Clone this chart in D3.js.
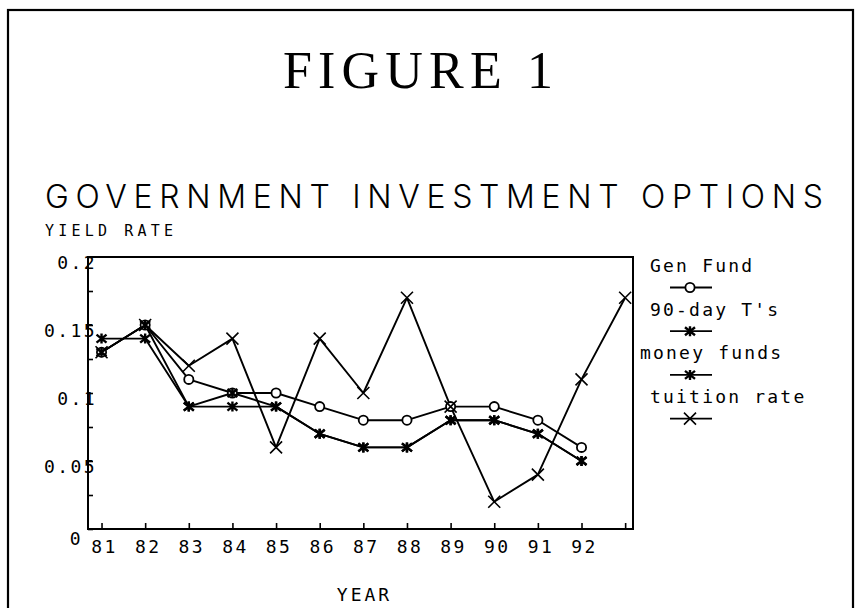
<!DOCTYPE html>
<html>
<head>
<meta charset="UTF-8" />
<title>Figure 1</title>
<script src="https://d3js.org/d3.v7.min.js"></script>
<style>
  body { margin: 0; background: #fff; }
  text { fill: #000; }
  .mono { font-family: "DejaVu Sans Mono", monospace; }
  .axis path { display: none; }
  .axis line { stroke: #000; stroke-width: 1.6; }
</style>
</head>
<body>
<div id="chart"></div>
<script>
// data
var years = [81, 82, 83, 84, 85, 86, 87, 88, 89, 90, 91, 92, 93];
var yearLabels = ["81", "82", "83", "84", "85", "86", "87", "88", "89", "90", "91", "92", ""];
var genFund    = [0.13, 0.15, 0.11, 0.10, 0.10, 0.09, 0.08, 0.08, 0.09, 0.09, 0.08, 0.06];
var tBills     = [0.14, 0.14, 0.09, 0.09, 0.09, 0.07, 0.06, 0.06, 0.08, 0.08, 0.07, 0.05];
var moneyFunds = [0.13, 0.15, 0.09, 0.10, 0.09, 0.07, 0.06, 0.06, 0.08, 0.08, 0.07, 0.05];
var tuition    = [0.13, 0.15, 0.12, 0.14, 0.06, 0.14, 0.10, 0.17, 0.09, 0.02, 0.04, 0.11, 0.17];
var yTicks = [0, 0.025, 0.05, 0.075, 0.1, 0.125, 0.15, 0.175, 0.2];
var yLabels = {"0": "0", "0.05": "0.05", "0.1": "0.1", "0.15": "0.15", "0.2": "0.2"};

var series = [
  {name: "Gen Fund", values: genFund, marker: "circle"},
  {name: "90-day T's", values: tBills, marker: "star"},
  {name: "money funds", values: moneyFunds, marker: "star"},
  {name: "tuition rate", values: tuition, marker: "x"}
];

var W = 856, H = 608;
var plot = {left: 88, top: 257, right: 633, bottom: 529};

var svg = d3.select("#chart").append("svg")
  .attr("width", W).attr("height", H);

// outer frame
svg.append("rect")
  .attr("x", 8).attr("y", 10)
  .attr("width", 845).attr("height", 620)
  .attr("fill", "none").attr("stroke", "#000").attr("stroke-width", 2.2);

// titles
svg.append("text")
  .attr("x", 283).attr("y", 88)
  .attr("textLength", 270).attr("lengthAdjust", "spacing")
  .style("font-family", "'Liberation Serif', serif")
  .style("font-size", "52px")
  .text("FIGURE 1");

svg.append("text")
  .attr("x", 45).attr("y", 208)
  .attr("textLength", 778).attr("lengthAdjust", "spacing")
  .style("font-family", "Inter, 'DejaVu Sans', sans-serif")
  .style("font-weight", 300)
  .style("font-size", "32px")
  .text("GOVERNMENT INVESTMENT OPTIONS");

svg.append("text")
  .attr("class", "mono")
  .attr("x", 45).attr("y", 236)
  .attr("textLength", 128).attr("lengthAdjust", "spacing")
  .style("font-size", "15px")
  .text("YIELD RATE");

// scales
var x = d3.scaleLinear().domain([80.69, 93.18]).range([plot.left, plot.right]);
var y = d3.scaleLinear().domain([0, 0.2]).range([plot.bottom, plot.top]);

// y axis
var yAxis = d3.axisLeft(y)
  .tickValues(yTicks)
  .tickSize(-5)
  .tickPadding(-9)
  .tickFormat(function(d) { return yLabels[String(+d.toFixed(3))] || ""; });

var gy = svg.append("g")
  .attr("class", "axis")
  .attr("transform", "translate(" + plot.left + ",0)")
  .call(yAxis);
gy.selectAll("text")
  .attr("class", "mono")
  .attr("dy", "0.62em")
  .style("font-size", "18px")
  .style("letter-spacing", "2.4px")
  .style("font-family", "'DejaVu Sans Mono', monospace")
  .filter(function(d) { return d === 0; })
  .attr("x", -5)
  .attr("dy", "0.85em");

// x axis
var xAxis = d3.axisBottom(x)
  .tickValues(years)
  .tickSize(-6)
  .tickFormat(function(d, i) { return yearLabels[i]; });

var gx = svg.append("g")
  .attr("class", "axis")
  .attr("transform", "translate(0," + plot.bottom + ")")
  .call(xAxis);
gx.selectAll("text")
  .attr("y", 24).attr("dy", 0).attr("dx", 2.5)
  .style("font-family", "'DejaVu Sans Mono', monospace")
  .style("font-size", "18px")
  .style("letter-spacing", "2.4px");

// plot box
svg.append("rect")
  .attr("x", plot.left).attr("y", plot.top)
  .attr("width", plot.right - plot.left).attr("height", plot.bottom - plot.top)
  .attr("fill", "none").attr("stroke", "#000").attr("stroke-width", 2);

svg.append("text")
  .attr("x", (plot.left + plot.right) / 2 + 4).attr("y", 601)
  .attr("text-anchor", "middle")
  .style("font-family", "'DejaVu Sans Mono', monospace")
  .style("font-size", "18px")
  .style("letter-spacing", "3px")
  .text("YEAR");

// markers
function marker(g, type, cx, cy) {
  if (type === "circle") {
    g.append("circle").attr("cx", cx).attr("cy", cy).attr("r", 4.6)
      .attr("fill", "#fff").attr("stroke", "#000").attr("stroke-width", 1.8);
  } else if (type === "star") {
    var s = 5;
    var p = "M" + (cx - s) + "," + (cy - s + 1) + "L" + (cx + s) + "," + (cy + s - 1) +
            "M" + (cx - s) + "," + (cy + s - 1) + "L" + (cx + s) + "," + (cy - s + 1) +
            "M" + cx + "," + (cy - s) + "L" + cx + "," + (cy + s);
    g.append("path").attr("d", p).attr("stroke", "#000").attr("stroke-width", 2.4).attr("fill", "none");
  } else {
    var t = 6;
    var q = "M" + (cx - t) + "," + (cy - t) + "L" + (cx + t) + "," + (cy + t) +
            "M" + (cx - t) + "," + (cy + t) + "L" + (cx + t) + "," + (cy - t);
    g.append("path").attr("d", q).attr("stroke", "#000").attr("stroke-width", 1.6).attr("fill", "none");
  }
}

var line = d3.line()
  .x(function(d, i) { return x(years[i]); })
  .y(function(d) { return y(d); });

var gl = svg.append("g");
series.forEach(function(s) {
  gl.append("path")
    .attr("d", line(s.values))
    .attr("fill", "none")
    .attr("stroke", "#000")
    .attr("stroke-width", 1.9)
    .attr("stroke-linejoin", "round");
});
var gm = svg.append("g");
series.forEach(function(s) {
  s.values.forEach(function(v, i) {
    marker(gm, s.marker, x(years[i]), y(v));
  });
});

// legend
var legendX = [650, 650, 640, 650];
var lg = svg.append("g");
series.forEach(function(s, i) {
  var by = 272 + i * 43.7;
  lg.append("text")
    .attr("x", legendX[i]).attr("y", by)
    .style("font-family", "'DejaVu Sans Mono', monospace")
    .style("font-size", "18px")
    .style("letter-spacing", "2.2px")
    .text(s.name);
  var ly = by + 15.5;
  lg.append("line")
    .attr("x1", 670).attr("x2", 712).attr("y1", ly).attr("y2", ly)
    .attr("stroke", "#000").attr("stroke-width", 1.8);
  marker(lg, s.marker, 690, ly);
});
</script>
</body>
</html>
